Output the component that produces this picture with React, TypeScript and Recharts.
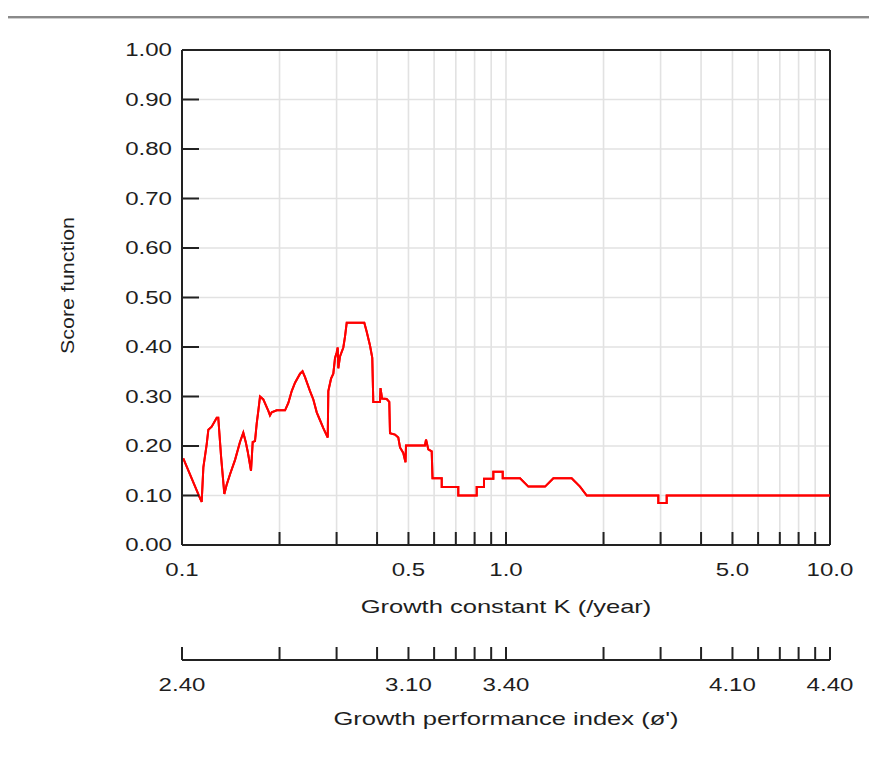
import React from "react";
import { CartesianGrid, Label, Line, LineChart, ReferenceLine, XAxis, YAxis } from "recharts";

// Score function against growth constant K (log scale), one point per vertex of the trace
const K_VALUES = [
  0.1009, 0.1137, 0.115, 0.1164, 0.1192, 0.1206, 0.1235, 0.128, 0.1294, 0.132,
  0.1351, 0.1374, 0.1407, 0.1458, 0.151, 0.1546, 0.1573, 0.1595, 0.1633, 0.1653,
  0.168, 0.1701, 0.172, 0.1741, 0.1782, 0.1847, 0.1869, 0.1892, 0.196, 0.208,
  0.2129, 0.2181, 0.2233, 0.2314, 0.2355, 0.2397, 0.2484, 0.2543, 0.2605, 0.2667,
  0.273, 0.2817, 0.2829, 0.2884, 0.2931, 0.2967, 0.3003, 0.3024, 0.3037, 0.3074,
  0.3147, 0.3185, 0.3224, 0.3653, 0.3716, 0.3804, 0.3866, 0.3894, 0.4084, 0.4099,
  0.4144, 0.4282, 0.4363, 0.4385, 0.4543, 0.4651, 0.4709, 0.4819, 0.4896, 0.4913,
  0.5623, 0.5664, 0.5757, 0.5898, 0.5932, 0.6333, 0.6333, 0.7124, 0.7124, 0.812,
  0.812, 0.8552, 0.8552, 0.9139, 0.9139, 0.9769, 0.9769, 1.105, 1.172, 1.32,
  1.4, 1.595, 1.692, 1.775, 2.952, 2.952, 3.133, 3.133, 10,
];

const SCORES = [
  0.175, 0.094, 0.087, 0.157, 0.204, 0.233, 0.239, 0.257, 0.257, 0.179,
  0.103, 0.122, 0.143, 0.172, 0.208, 0.227, 0.208, 0.189, 0.15, 0.208,
  0.21, 0.246, 0.271, 0.3, 0.294, 0.271, 0.262, 0.268, 0.272, 0.272,
  0.287, 0.311, 0.328, 0.346, 0.351, 0.339, 0.311, 0.294, 0.268, 0.252,
  0.236, 0.217, 0.311, 0.336, 0.346, 0.378, 0.389, 0.399, 0.357, 0.381,
  0.399, 0.421, 0.449, 0.449, 0.431, 0.403, 0.378, 0.289, 0.289, 0.317,
  0.296, 0.295, 0.289, 0.226, 0.223, 0.217, 0.197, 0.186, 0.167, 0.201,
  0.201, 0.213, 0.193, 0.189, 0.135, 0.135, 0.117, 0.117, 0.1, 0.1,
  0.117, 0.117, 0.134, 0.134, 0.148, 0.148, 0.135, 0.135, 0.118, 0.118,
  0.135, 0.135, 0.118, 0.1, 0.1, 0.085, 0.085, 0.1, 0.1,
];

const K_TICKS = [0.1, 0.2, 0.3, 0.4, 0.5, 0.6, 0.7, 0.8, 0.9, 1, 2, 3, 4, 5, 6, 7, 8, 9, 10];
const K_LABEL_AT = [0.1, 0.5, 1, 5, 10];
const K_LABEL_TEXT = ["0.1", "0.5", "1.0", "5.0", "10.0"];
const PHI_LABEL_TEXT = ["2.40", "3.10", "3.40", "4.10", "4.40"];
const SCORE_TICKS = [0, 0.1, 0.2, 0.3, 0.4, 0.5, 0.6, 0.7, 0.8, 0.9, 1];

const data = K_VALUES.map((k, i) => ({ k, score: SCORES[i] }));

const FONT = "'Liberation Sans', Arial, sans-serif";
const INK = "#1e1e1e";
const AXIS = "#222";

function StretchText({ x, y, anchor, sx = 1.3, children }: any) {
  return (
    <text
      transform={`translate(${x},${y}) scale(${sx},1)`}
      textAnchor={anchor}
      dominantBaseline="central"
      fontFamily={FONT}
      fontSize={18.5}
      fill={INK}
    >
      {children}
    </text>
  );
}

// y ticks point into the plot
function ScoreTick({ x, y, payload }: any) {
  return (
    <g>
      <line x1={x} x2={x + 17} y1={y} y2={y} stroke={AXIS} strokeWidth={2} />
      <StretchText x={x - 10} y={y} anchor="end">
        {payload.value.toFixed(2)}
      </StretchText>
    </g>
  );
}

function makeBottomTick(labels: string[]) {
  return function BottomTick({ x, y, payload }: any) {
    const idx = K_LABEL_AT.indexOf(payload.value);
    return (
      <g>
        <line x1={x} x2={x} y1={y} y2={y - 13} stroke={AXIS} strokeWidth={2} />
        {idx >= 0 && (
          <StretchText x={x} y={y + 25} anchor="middle">
            {labels[idx]}
          </StretchText>
        )}
      </g>
    );
  };
}

const KTick = makeBottomTick(K_LABEL_TEXT);
const PhiTick = makeBottomTick(PHI_LABEL_TEXT);

export default function App() {
  return (
    <div style={{ position: "absolute", left: 0, top: 0, width: 869, height: 767, background: "#fff" }}>
      <div style={{ position: "absolute", left: 8, top: 16, width: 861, height: 2, background: "#8a8a8a" }} />
      <div style={{ position: "absolute", left: 8, top: 18, width: 861, height: 1, background: "#cfcfcf" }} />
      <LineChart
        width={869}
        height={767}
        data={data}
        margin={{ top: 50, right: 39, bottom: 27, left: 0 }}
      >
        <CartesianGrid stroke="#e2e2e2" strokeWidth={1.6} />
        <XAxis
          dataKey="k"
          type="number"
          scale="log"
          domain={[0.1, 10]}
          allowDataOverflow
          ticks={K_TICKS}
          interval={0}
          height={115}
          tickSize={0}
          tickMargin={0}
          tickLine={false}
          axisLine={{ stroke: AXIS, strokeWidth: 2 }}
          tick={<KTick />}
        >
          <Label
            content={({ viewBox }: any) => (
              <StretchText x={viewBox.x + viewBox.width / 2} y={viewBox.y + 62} anchor="middle" sx={1.38}>
                Growth constant K (/year)
              </StretchText>
            )}
          />
        </XAxis>
        {/* φ' = log10(K) + const, so the second axis shares the K scale */}
        <XAxis
          xAxisId="phi"
          dataKey="k"
          type="number"
          scale="log"
          domain={[0.1, 10]}
          allowDataOverflow
          ticks={K_TICKS}
          interval={0}
          height={80}
          tickSize={0}
          tickMargin={0}
          tickLine={false}
          axisLine={{ stroke: AXIS, strokeWidth: 2 }}
          tick={<PhiTick />}
        >
          <Label
            content={({ viewBox }: any) => (
              <StretchText x={viewBox.x + viewBox.width / 2} y={viewBox.y + 59} anchor="middle" sx={1.38}>
                Growth performance index (ø')
              </StretchText>
            )}
          />
        </XAxis>
        <YAxis
          type="number"
          domain={[0, 1]}
          ticks={SCORE_TICKS}
          interval={0}
          width={182}
          tickSize={0}
          tickMargin={0}
          tickLine={false}
          axisLine={{ stroke: AXIS, strokeWidth: 2 }}
          tick={<ScoreTick />}
        >
          <Label
            content={({ viewBox }: any) => (
              <text
                transform={`translate(68,${viewBox.y + viewBox.height / 2 - 12}) rotate(-90) scale(1.16,1)`}
                textAnchor="middle"
                dominantBaseline="central"
                fontFamily={FONT}
                fontSize={18.5}
                fill={INK}
              >
                Score function
              </text>
            )}
          />
        </YAxis>
        <ReferenceLine y={1} stroke={AXIS} strokeWidth={2} />
        <ReferenceLine x={10} stroke={AXIS} strokeWidth={2} />
        <Line
          dataKey="score"
          type="linear"
          stroke="#ff0000"
          strokeWidth={2}
          dot={false}
          isAnimationActive={false}
        />
        {/* same trace bound to the φ' axis so that axis gets its scale; drawn on top of the first */}
        <Line
          xAxisId="phi"
          dataKey="score"
          type="linear"
          stroke="#ff0000"
          strokeWidth={2}
          dot={false}
          isAnimationActive={false}
        />
      </LineChart>
    </div>
  );
}
